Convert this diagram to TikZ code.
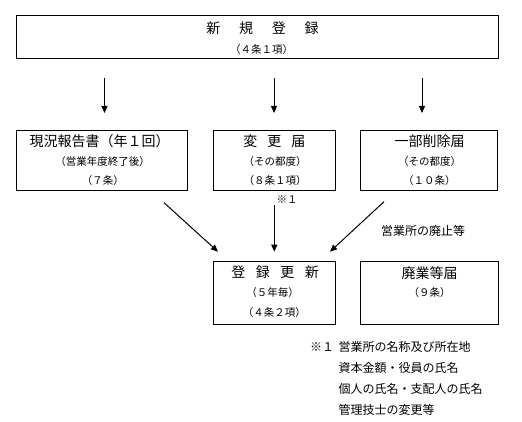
\documentclass[tikz,border=0pt]{standalone}
\usepackage{fontspec}
\setmainfont{Noto Sans CJK JP}
\usetikzlibrary{arrows.meta}
\tikzstyle{box}=[draw, line width=1pt, inner sep=0pt]
\tikzstyle{ttl}=[inner sep=0pt, font=\fontsize{14pt}{16pt}\selectfont]
\tikzstyle{sub}=[inner sep=0pt, font=\fontsize{10.5pt}{12pt}\selectfont]
\tikzstyle{note}=[inner sep=0pt, anchor=west, font=\fontsize{12pt}{14pt}\selectfont]
\tikzstyle{arr}=[line width=1pt, -{Triangle[width=6pt,length=7pt]}]
\begin{document}
\begin{tikzpicture}[x=1pt,y=-1pt]
		\useasboundingbox (0,0) rectangle (522,422);
		% boxes
		\node[box, minimum width=481.3pt, minimum height=43pt] (reg) at (257.4,36.8) {};
		\node[box, minimum width=171.3pt, minimum height=60.3pt] (rep) at (102.3,160.8) {};
		\node[box, minimum width=122pt, minimum height=60.3pt] (chg) at (274,160.8) {};
		\node[box, minimum width=137.3pt, minimum height=60.3pt] (del) at (429.3,160.8) {};
		\node[box, minimum width=122pt, minimum height=63.3pt] (ren) at (274.3,292.7) {};
		\node[box, minimum width=137.6pt, minimum height=63.3pt] (abol) at (429.5,292.7) {};
		% texts
		\node[ttl] (regT) at (262.5,28) {新\hspace{18.7pt}規\hspace{18.7pt}登\hspace{18.7pt}録};
		\node[sub] (regA) at (261.7,50) {（４条１項）};
		\node[ttl] (repT) at (99.5,141) {現況報告書（年１回）};
		\node[sub] (repA) at (102.5,162) {（営業年度終了後）};
		\node[sub] (repB) at (102.8,181) {（７条）};
		\node[ttl] (chgT) at (274.3,141) {変\hspace{10pt}更\hspace{10pt}届};
		\node[sub] (chgA) at (275,162) {（その都度）};
		\node[sub] (chgB) at (275,181) {（８条１項）};
		\node[ttl] (delT) at (429.5,141) {一部削除届};
		\node[sub] (delA) at (429.7,162) {（その都度）};
		\node[sub] (delB) at (429.3,181) {（１０条）};
		\node[sub] (mark) at (287,200) {※１};
		\node[note, anchor=center] (close) at (423,230.7) {営業所の廃止等};
		\node[ttl] (renT) at (275,272.7) {登\hspace{10.5pt}録\hspace{10.5pt}更\hspace{10.5pt}新};
		\node[sub] (renA) at (272.5,292.7) {（５年毎）};
		\node[sub] (renB) at (274.3,312.7) {（４条２項）};
		\node[ttl] (abolT) at (429.5,272.7) {廃業等届};
		\node[sub] (abolA) at (429.5,292.7) {（９条）};
		\node[note] (n0) at (310,346.7) {※１};
		\node[note] (n1) at (338.3,346.7) {営業所の名称及び所在地};
		\node[note] (n2) at (338.3,367.7) {資本金額・役員の氏名};
		\node[note] (n3) at (338.3,389) {個人の氏名・支配人の氏名};
		\node[note] (n4) at (338.3,410) {管理技士の変更等};
		% arrows
		\coordinate (a1) at (104.5,78); \coordinate (b1) at (104.5,113);
		\coordinate (a2) at (274,78); \coordinate (b2) at (274,113);
		\coordinate (a3) at (422,78); \coordinate (b3) at (422,113);
		\coordinate (a4) at (164,202.7); \coordinate (b4) at (218,251.7);
		\coordinate (a5) at (274.3,205); \coordinate (b5) at (274.3,251.7);
		\coordinate (a6) at (384,201.7); \coordinate (b6) at (330,251.7);
		\draw[arr] (a1)--(b1);
		\draw[arr] (a2)--(b2);
		\draw[arr] (a3)--(b3);
		\draw[arr] (a4)--(b4);
		\draw[arr] (a5)--(b5);
		\draw[arr] (a6)--(b6);
	\end{tikzpicture}
\end{document}
